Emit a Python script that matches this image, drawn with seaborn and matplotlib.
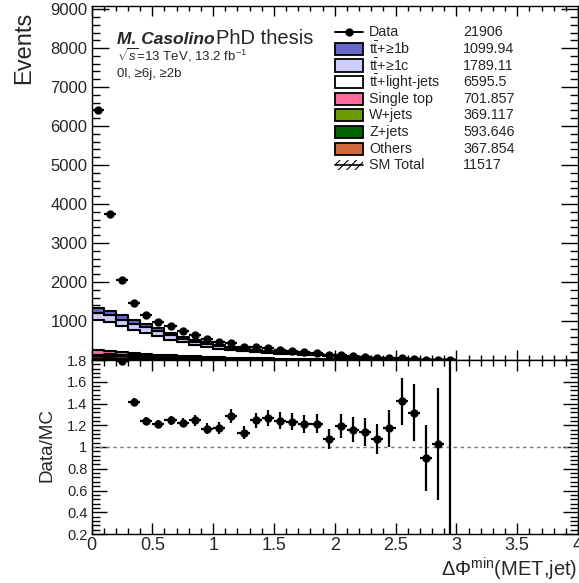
import numpy as np
import pandas as pd
import matplotlib
matplotlib.use("Agg")
import matplotlib.pyplot as plt
import seaborn as sns
from matplotlib.ticker import MultipleLocator, FuncFormatter
from matplotlib.patches import Rectangle
from matplotlib.lines import Line2D

sns.set_theme(style="ticks")
plt.rcParams["font.family"] = ["Liberation Sans", "DejaVu Sans"]
plt.rcParams["mathtext.fontset"] = "custom"
plt.rcParams["mathtext.rm"] = "Liberation Sans"
plt.rcParams["mathtext.it"] = "Liberation Sans:italic"
plt.rcParams["mathtext.bf"] = "Liberation Sans:bold"
plt.rcParams["hatch.linewidth"] = 0.8

# ---- binning: 0.1-wide bins in min dphi(MET, jet), filled up to 3.0 ----
bin_width = 0.1
n_filled = 30
x_max = 4.0

# ---- observed events per bin ----
data_counts = [6400, 3744, 2051, 1453, 1162, 983, 872, 735, 650, 530,
               462, 427, 342, 325, 299, 256, 239, 214, 188, 140,
               117, 102, 82, 60, 48, 44, 25, 9, 4, 1]

# ---- simulated backgrounds per bin ----
ttbb = [115, 111, 108, 92, 86, 77, 67, 58, 50, 43,
        38, 32, 29, 25, 23, 20, 18, 17, 15, 12,
        9, 8, 7, 5, 4, 3, 2, 1.0, 0.4, 0.03]
ttcc = [190, 179, 165, 155, 145, 125, 110, 93, 81, 70,
        61, 52, 47, 40, 37, 32, 30, 27, 24, 20,
        15, 14, 11, 9, 6, 5, 3, 1.5, 0.6, 0.05]
ttlight = [775, 742, 674, 603, 544, 471, 403, 345, 300, 262,
           226, 190, 173, 152, 135, 117, 113, 102, 90, 76,
           58, 51, 43, 32, 25, 17, 10.8, 5.9, 2.3, 0.16]
single_top = [120, 78, 66, 58, 52, 46, 40, 35, 30, 26,
              22, 19, 17, 15, 13, 12, 11, 10, 8, 7,
              5, 4, 3, 3, 2, 2, 1, 0.5, 0.2, 0.02]
wjets = [35, 40, 37, 33, 30, 26, 22, 19, 17, 15,
         13, 11, 10, 8, 8, 7, 6, 6, 5, 4,
         3, 3, 2, 2, 1, 1, 0.6, 0.3, 0.1, 0.01]
zjets = [60, 66, 60, 53, 48, 42, 36, 31, 27, 23,
         20, 17, 16, 13, 12, 11, 10, 9, 8, 7,
         5, 5, 4, 3, 2, 2, 1, 0.5, 0.2, 0.02]
others = [30, 40, 36, 33, 30, 26, 22, 19, 17, 14,
          13, 11, 10, 8, 8, 7, 6, 6, 5, 4,
          3, 3, 2, 2, 1, 1, 0.6, 0.3, 0.1, 0.01]

process_names = ["ttbb", "ttcc", "ttlight", "single_top", "wjets", "zjets", "others"]
process_values = [ttbb, ttcc, ttlight, single_top, wjets, zjets, others]
process_colors = ["#6767C9", "#CDCDFD", "#FFFFFF", "#FF6B9E", "#6B9B00", "#006400", "#D0693A"]
legend_labels = [r"$\mathrm{t}\bar{\mathrm{t}}$+≥1b", r"$\mathrm{t}\bar{\mathrm{t}}$+≥1c",
                 r"$\mathrm{t}\bar{\mathrm{t}}$+light-jets", "Single top", "W+jets",
                 "Z+jets", "Others"]
legend_yields = ["1099.94", "1789.11", "6595.5", "701.857", "369.117", "593.646", "367.854"]
data_yield = "21906"
total_yield = "11517"

edges = [round(i * bin_width, 3) for i in range(n_filled + 1)]
centers = np.array(edges[:-1]) + bin_width / 2

rows = []
for name, vals in zip(process_names, process_values):
    for c, v in zip(centers, vals):
        rows.append((float(c), float(v), name))
df = pd.DataFrame(rows, columns=["dphi", "events", "process"])

data = np.array(data_counts, dtype=float)
mc_total = np.sum(np.array(process_values, dtype=float), axis=0)
ratio = data / mc_total
ratio_err = np.sqrt(data) / mc_total

# ---- figure layout ----
W, H = 579, 583
fig = plt.figure(figsize=(W / 100, H / 100), dpi=100)
fig.patch.set_facecolor("white")

def fx(px):
    return px / W

def fy(py):
    return 1 - py / H

left, right = 91.5, 578.0
ax = fig.add_axes([fx(left), fy(360), (right - left) / W, (360 - 6) / H])
rax = fig.add_axes([fx(left), fy(534), (right - left) / W, (534 - 360) / H])

# stacked backgrounds
sns.histplot(df, x="dphi", weights="events", hue="process", hue_order=process_names,
             multiple="stack", bins=edges, element="step",
             palette=dict(zip(process_names, process_colors)),
             edgecolor="black", linewidth=1.5, alpha=1, legend=False, ax=ax)

# data points
ax.errorbar(centers, data, yerr=np.sqrt(data), xerr=bin_width / 2, fmt="o",
            color="black", ms=5, elinewidth=1.6, capsize=0, zorder=5)

ax.set_xlim(0, x_max)
ax.set_ylim(0, 9080)
ax.set_xlabel("")
ax.set_ylabel("")

# ratio panel
rax.axhline(1, color="#777777", lw=1, ls=(0, (2.5, 2.5)), zorder=1)
rax.errorbar(centers, ratio, yerr=ratio_err, xerr=bin_width / 2, fmt="o",
             color="black", ms=5, elinewidth=1.6, capsize=0, zorder=5)
rax.set_xlim(0, x_max)
rax.set_ylim(0.2, 1.8)
rax.set_xlabel("")
rax.set_ylabel("")

fmt_g = FuncFormatter(lambda v, p: f"{v:g}")

for a in (ax, rax):
    for s in a.spines.values():
        s.set_linewidth(1.0)
        s.set_color("black")
    a.xaxis.set_major_locator(MultipleLocator(0.5))
    a.xaxis.set_minor_locator(MultipleLocator(0.1))
    a.tick_params(which="both", direction="in", top=True, right=True,
                  color="black", width=1.0)

ax.yaxis.set_major_locator(MultipleLocator(1000))
ax.yaxis.set_minor_locator(MultipleLocator(200))
ax.yaxis.set_major_formatter(FuncFormatter(lambda v, p: "" if v < 1 else f"{v:g}"))
ax.tick_params(axis="x", which="major", length=7.5, labelbottom=False)
ax.tick_params(axis="x", which="minor", length=3.8)
ax.tick_params(axis="y", which="major", length=12, labelsize=12, pad=3)
ax.tick_params(axis="y", which="minor", length=6)

rax.yaxis.set_major_locator(MultipleLocator(0.2))
rax.yaxis.set_minor_locator(MultipleLocator(0.04))
rax.yaxis.set_major_formatter(fmt_g)
rax.xaxis.set_major_formatter(fmt_g)
rax.tick_params(axis="x", which="major", length=8, labelsize=13, pad=2)
rax.tick_params(axis="x", which="minor", length=4)
rax.tick_params(axis="y", which="major", length=11, labelsize=10.5, pad=3)
rax.tick_params(axis="y", which="minor", length=5.5)

# axis titles
fig.text(fx(24), fy(12), "Events", rotation=90, ha="center", va="top", fontsize=17)
fig.text(fx(47), fy(445), "Data/MC", rotation=90, ha="center", va="center", fontsize=13.5)
fig.text(fx(577), fy(576.5), r"$\Delta\Phi^{\mathrm{min}}$(MET,jet)", ha="right",
         va="baseline", fontsize=14.5)

# header text
fig.text(fx(117), fy(44), "M. Casolino", fontsize=12.5, fontweight="bold",
         fontstyle="italic", ha="left", va="baseline")
fig.text(fx(216), fy(44), "PhD thesis", fontsize=14.5, ha="left", va="baseline")
fig.text(fx(117), fy(60), r"$\sqrt{s}$=13 TeV, 13.2 fb$^{-1}$", fontsize=9.5,
         ha="left", va="baseline")
fig.text(fx(117), fy(77), "0l, ≥6j, ≥2b", fontsize=9.5, ha="left", va="baseline")

# legend
row0, dy = 32.3, 16.6
bx0, bx1 = 335, 363
tx, nx = 369, 463
lfs = 10.3

yc = row0
fig.add_artist(Line2D([fx(bx0), fx(bx1)], [fy(yc), fy(yc)], color="black", lw=1.4,
                      transform=fig.transFigure))
fig.add_artist(Line2D([fx((bx0 + bx1) / 2)], [fy(yc)], color="black", marker="o",
                      ms=5, lw=0, transform=fig.transFigure))
fig.text(fx(tx), fy(yc), "Data", fontsize=lfs, ha="left", va="center")
fig.text(fx(nx), fy(yc), data_yield, fontsize=lfs, ha="left", va="center")

for i, (lab, col, yld) in enumerate(zip(legend_labels, process_colors, legend_yields)):
    yc = row0 + (i + 1) * dy
    fig.add_artist(Rectangle((fx(bx0), fy(yc + 6)), fx(bx1) - fx(bx0), (12) / H,
                             facecolor=col, edgecolor="black", lw=1.3,
                             transform=fig.transFigure))
    fig.text(fx(tx), fy(yc), lab, fontsize=lfs, ha="left", va="center")
    fig.text(fx(nx), fy(yc), yld, fontsize=lfs, ha="left", va="center")

yc = row0 + 8 * dy
fig.add_artist(Rectangle((fx(bx0), fy(yc + 5)), fx(bx1) - fx(bx0), 10 / H,
                         facecolor="none", edgecolor="black", lw=0, hatch="////",
                         transform=fig.transFigure))
fig.add_artist(Line2D([fx(bx0), fx(bx1)], [fy(yc), fy(yc)], color="black", lw=1.2,
                      transform=fig.transFigure))
fig.text(fx(tx), fy(yc), "SM Total", fontsize=lfs, ha="left", va="center")
fig.text(fx(nx), fy(yc), total_yield, fontsize=lfs, ha="left", va="center")

fig.savefig("out.png", dpi=100, facecolor="white")
